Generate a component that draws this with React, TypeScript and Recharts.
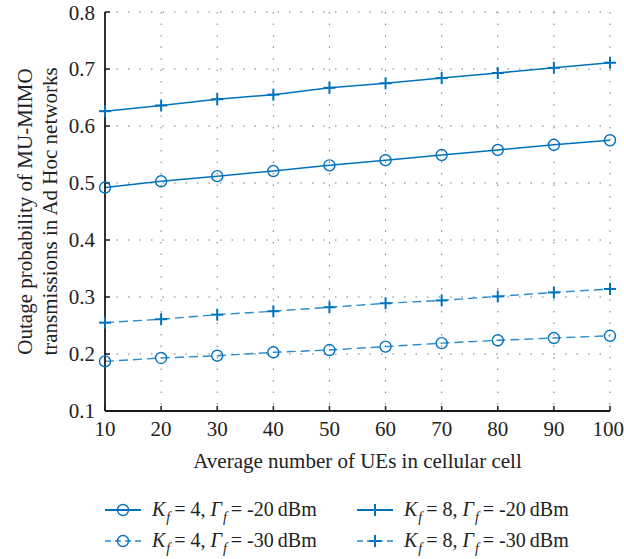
import React from 'react';
import { LineChart, Line, XAxis, YAxis, CartesianGrid, Legend } from 'recharts';

const FONT = '"Liberation Serif", "DejaVu Serif", serif';
const FS = 21;
const BLUE = '#0072BD';
const BLUE_DASH = '#2b8bd0';

// average number of UEs in the cellular cell
const ues = [10, 20, 30, 40, 50, 60, 70, 80, 90, 100];

// outage probability
const k4g20 = [0.492, 0.503, 0.512, 0.521, 0.531, 0.540, 0.549, 0.558, 0.567, 0.575];
const k8g20 = [0.626, 0.636, 0.647, 0.655, 0.667, 0.675, 0.684, 0.693, 0.702, 0.711];
const k4g30 = [0.187, 0.193, 0.197, 0.203, 0.207, 0.213, 0.219, 0.224, 0.228, 0.232];
const k8g30 = [0.255, 0.261, 0.269, 0.275, 0.282, 0.289, 0.294, 0.301, 0.308, 0.314];

const yTicks = [0.1, 0.2, 0.3, 0.4, 0.5, 0.6, 0.7, 0.8];

const data = ues.map((u, i) => ({
  u,
  k4g20: k4g20[i],
  k8g20: k8g20[i],
  k4g30: k4g30[i],
  k8g30: k8g30[i],
}));

type Marker = 'circle' | 'plus';
const series: { key: string; k: number; g: number; marker: Marker; dashed: boolean }[] = [
  { key: 'k4g20', k: 4, g: -20, marker: 'circle', dashed: false },
  { key: 'k8g20', k: 8, g: -20, marker: 'plus', dashed: false },
  { key: 'k4g30', k: 4, g: -30, marker: 'circle', dashed: true },
  { key: 'k8g30', k: 8, g: -30, marker: 'plus', dashed: true },
];

const PlusDot = (props: any) => {
  const { cx, cy, stroke } = props;
  if (cx == null || cy == null) return null;
  return (
    <g>
      <line x1={cx - 6} y1={cy} x2={cx + 6} y2={cy} stroke={stroke} strokeWidth={2} />
      <line x1={cx} y1={cy - 6} x2={cx} y2={cy + 6} stroke={stroke} strokeWidth={2} />
    </g>
  );
};

const MarkerIcon = ({ marker, dashed }: { marker: Marker; dashed: boolean }) => {
  const color = dashed ? BLUE_DASH : BLUE;
  return (
    <svg width={36} height={16} style={{ display: 'block' }}>
      <line
        x1={0}
        y1={8}
        x2={36}
        y2={8}
        stroke={color}
        strokeWidth={dashed ? 1.4 : 2}
        strokeDasharray={dashed ? '6 4' : undefined}
      />
      {marker === 'circle' ? (
        <circle cx={18} cy={8} r={5.5} fill="none" stroke={BLUE} strokeWidth={1.4} />
      ) : (
        <g>
          <line x1={12} y1={8} x2={24} y2={8} stroke={BLUE} strokeWidth={2} />
          <line x1={18} y1={2} x2={18} y2={14} stroke={BLUE} strokeWidth={2} />
        </g>
      )}
    </svg>
  );
};

const it = { fontStyle: 'italic' as const };
const sub = { fontStyle: 'italic' as const, fontSize: 14, position: 'relative' as const, top: 6, marginLeft: 1 };

const LegendBox = () => (
  <div
    style={{
      display: 'grid',
      gridTemplateColumns: '252px 252px',
      rowGap: 6,
      fontFamily: FONT,
      fontSize: 20,
      color: '#222',
    }}
  >
    {series.map((s) => (
      <div key={s.key} style={{ display: 'flex', alignItems: 'center', height: 25 }}>
        <MarkerIcon marker={s.marker} dashed={s.dashed} />
        <span style={{ marginLeft: 11, whiteSpace: 'nowrap' }}>
          <span style={it}>K</span>
          <span style={sub}>f</span>&thinsp;= {s.k}, <span style={it}>Γ</span>
          <span style={sub}>f</span>&thinsp;= {s.g}&thinsp;dBm
        </span>
      </div>
    ))}
  </div>
);

const YLabel = (props: any) => {
  const { x, y, height } = props.viewBox;
  const cy = y + height / 2;
  const lines = ['Outage probability of MU-MIMO', 'transmissions in Ad Hoc networks'];
  return (
    <g>
      {lines.map((t, i) => {
        const lx = x + 20 + i * 25;
        return (
          <text
            key={t}
            x={lx}
            y={cy}
            transform={`rotate(-90, ${lx}, ${cy})`}
            textAnchor="middle"
            dominantBaseline="central"
            fontFamily={FONT}
            fontSize={FS}
            fill="#222"
          >
            {t}
          </text>
        );
      })}
    </g>
  );
};

const XLabel = (props: any) => {
  const { x, y, width } = props.viewBox;
  return (
    <text
      x={x + width / 2}
      y={y + 50}
      textAnchor="middle"
      dominantBaseline="central"
      fontFamily={FONT}
      fontSize={FS}
      fill="#222"
    >
      Average number of UEs in cellular cell
    </text>
  );
};

const tickStyle = { fontFamily: FONT, fontSize: FS, fill: '#222' };
const axisLine = { stroke: '#1a1a1a', strokeWidth: 1.8 };
const tickLine = { stroke: '#1a1a1a', strokeWidth: 1.5 };

export default function App() {
  return (
    <div style={{ position: 'absolute', left: 0, top: 0, width: 624, height: 559, background: '#fff' }}>
      <LineChart width={624} height={559} data={data} margin={{ top: 12, right: 14, bottom: 88, left: 5 }}>
        <CartesianGrid stroke="#777" strokeDasharray="1.5 10" strokeWidth={1} />
        <XAxis
          dataKey="u"
          type="number"
          domain={[10, 100]}
          ticks={ues}
          height={60}
          tick={tickStyle}
          tickSize={-5}
          tickMargin={15}
          axisLine={axisLine}
          tickLine={tickLine}
          label={{ content: XLabel }}
        />
        <XAxis
          xAxisId="top"
          orientation="top"
          dataKey="u"
          type="number"
          domain={[10, 100]}
          ticks={ues}
          height={0}
          tick={false}
          tickSize={-5}
          axisLine={axisLine}
          tickLine={tickLine}
        />
        <YAxis
          type="number"
          domain={[0.1, 0.8]}
          ticks={yTicks}
          width={100}
          tick={tickStyle}
          tickSize={-5}
          tickMargin={15}
          tickFormatter={(v: number) => v.toFixed(1)}
          axisLine={axisLine}
          tickLine={tickLine}
          label={{ content: YLabel }}
        />
        <YAxis
          yAxisId="right"
          orientation="right"
          type="number"
          domain={[0.1, 0.8]}
          ticks={yTicks}
          width={0}
          tick={false}
          tickSize={-5}
          axisLine={axisLine}
          tickLine={tickLine}
        />
        <Legend
          layout="horizontal"
          verticalAlign="middle"
          align="center"
          content={LegendBox}
          wrapperStyle={{ left: 105, top: 497, width: 520 }}
        />
        {series.map((s) => (
          <Line
            key={s.key}
            dataKey={s.key}
            type="linear"
            stroke={s.dashed ? BLUE_DASH : BLUE}
            strokeWidth={s.dashed ? 1.4 : 1.5}
            strokeDasharray={s.dashed ? '9 5' : undefined}
            dot={
              s.marker === 'circle'
                ? { r: 5.5, fill: 'none', stroke: BLUE, strokeWidth: 1.4, strokeDasharray: '' }
                : (p: any) => <PlusDot key={`${s.key}-${p.index}`} {...p} stroke={BLUE} />
            }
            isAnimationActive={false}
          />
        ))}
      </LineChart>
    </div>
  );
}
